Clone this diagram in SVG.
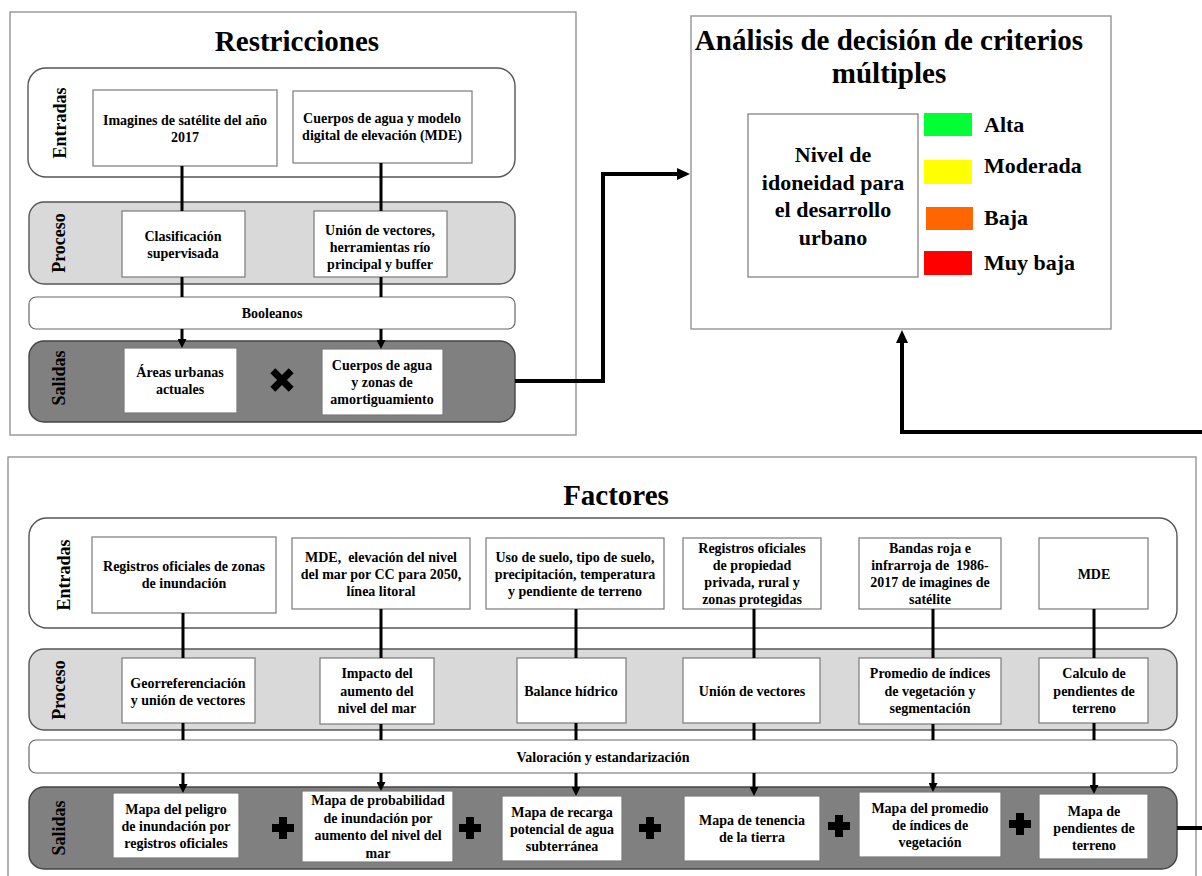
<svg xmlns="http://www.w3.org/2000/svg" width="1202" height="876" viewBox="0 0 1202 876">
<defs>
<style>
text{font-family:"Liberation Serif","Times New Roman",serif;font-weight:bold;fill:#000;}
.t{font-size:14px;text-anchor:middle;}
.title{font-size:29px;text-anchor:middle;}
.big{font-size:22px;text-anchor:middle;}
.leg{font-size:22px;}
.side{font-size:18px;text-anchor:middle;}
.outer{fill:#fff;stroke:#8c8c8c;stroke-width:1.3;}
.rowE{fill:#fff;stroke:#555;stroke-width:1.4;}
.rowP{fill:#d9d9d9;stroke:#555;stroke-width:1.4;}
.rowB{fill:#fff;stroke:#666;stroke-width:1.2;}
.rowS{fill:#808080;stroke:#444;stroke-width:1.4;}
.box{fill:#fff;stroke:#7a7a7a;stroke-width:1.2;}
.c{fill:none;stroke:#000;stroke-width:3;}
.ca{fill:none;stroke:#000;stroke-width:3;marker-end:url(#ah);}
.cb{fill:none;stroke:#000;stroke-width:4;stroke-linejoin:miter;marker-end:url(#bh);}
.sym{fill:#000;}
</style>
<marker id="ah" viewBox="0 0 10 10" refX="4.4" refY="5" markerWidth="9" markerHeight="9" markerUnits="userSpaceOnUse" orient="auto">
<path d="M0,0 L10,5 L0,10 Z" fill="#000"/>
</marker>
<marker id="bh" viewBox="0 0 13 12" refX="7" refY="6" markerWidth="13" markerHeight="12" markerUnits="userSpaceOnUse" orient="auto">
<path d="M0,0 L13,6 L0,12 Z" fill="#000"/>
</marker>
</defs>
<rect width="1202" height="876" fill="#fff"/>

<!-- Restricciones panel -->
<g id="restricciones">
<rect class="outer" x="10" y="12" width="566" height="423"/>
<text class="title" x="297" y="51">Restricciones</text>
<rect class="rowE" x="28" y="68" width="487" height="109" rx="18"/>
<rect class="rowP" x="29" y="202" width="486" height="82" rx="15"/>
<rect class="rowB" x="29" y="297" width="486" height="32" rx="7"/>
<rect class="rowS" x="29" y="341" width="486" height="81" rx="15"/>
<text class="side" transform="translate(66,123) rotate(-90)">Entradas</text>
<text class="side" transform="translate(65,243) rotate(-90)">Proceso</text>
<text class="side" transform="translate(65,378) rotate(-90)">Salidas</text>
<text class="t" x="272" y="318">Booleanos</text>
</g>
<g id="r-ent1"><rect class="box" x="93" y="90" width="184" height="76"/><text class="t"><tspan x="185" y="125">Imagines de satélite del año</tspan><tspan x="185" y="142">2017</tspan></text></g>
<g id="r-ent2"><rect class="box" x="293" y="91" width="179" height="72"/><text class="t"><tspan x="382" y="123">Cuerpos de agua y modelo</tspan><tspan x="382" y="140">digital de elevación (MDE)</tspan></text></g>
<g id="r-proc1"><rect class="box" x="122" y="211" width="123" height="66"/><text class="t"><tspan x="183" y="241">Clasificación</tspan><tspan x="183" y="258">supervisada</tspan></text></g>
<g id="r-proc2"><rect class="box" x="314" y="211" width="133" height="66"/><text class="t"><tspan x="380" y="235">Unión de vectores,</tspan><tspan x="380" y="252">herramientas río</tspan><tspan x="380" y="269">principal y buffer</tspan></text></g>
<g id="r-sal1"><rect class="box" x="124" y="348" width="113" height="65"/><text class="t"><tspan x="180" y="377">Áreas urbanas</tspan><tspan x="180" y="394">actuales</tspan></text></g>
<g id="r-sal2"><rect class="box" x="322" y="349" width="121" height="66"/><text class="t"><tspan x="382" y="370">Cuerpos de agua</tspan><tspan x="382" y="387">y zonas de</tspan><tspan x="382" y="404">amortiguamiento</tspan></text></g>
<g id="r-times"><path class="sym" transform="translate(282,380) rotate(45)" d="M-3.5,-13 H3.5 V-3.5 H13 V3.5 H3.5 V13 H-3.5 V3.5 H-13 V-3.5 H-3.5 Z"/></g>

<!-- MCDA panel -->
<g id="mcda">
<rect class="outer" x="691" y="16" width="420" height="313"/>
<text class="title"><tspan x="889" y="50">Análisis de decisión de criterios</tspan><tspan x="889" y="83">múltiples</tspan></text>
</g>
<g id="nivel"><rect class="box" x="748" y="114" width="170" height="163"/><text class="big"><tspan x="833" y="162">Nivel de</tspan><tspan x="833" y="190">idoneidad para</tspan><tspan x="833" y="217">el desarrollo</tspan><tspan x="833" y="245">urbano</tspan></text></g>
<g id="leg-alta"><rect x="924" y="113" width="48" height="23" fill="#00ff33"/><text class="leg" x="984" y="132">Alta</text></g>
<g id="leg-moderada"><rect x="924" y="160" width="48" height="24" fill="#ffff00"/><text class="leg" x="984" y="173">Moderada</text></g>
<g id="leg-baja"><rect x="926" y="207" width="47" height="23" fill="#ff6600"/><text class="leg" x="984" y="225">Baja</text></g>
<g id="leg-muybaja"><rect x="924" y="251" width="48" height="24" fill="#ff0000"/><text class="leg" x="984" y="270">Muy baja</text></g>

<!-- Factores panel -->
<g id="factores">
<rect class="outer" x="8" y="457" width="1188" height="440"/>
<text class="title" x="616" y="505">Factores</text>
<rect class="rowE" x="29" y="518" width="1148" height="110" rx="18"/>
<rect class="rowP" x="29" y="649" width="1148" height="81" rx="15"/>
<rect class="rowB" x="29" y="740" width="1148" height="33" rx="7"/>
<rect class="rowS" x="29" y="787" width="1148" height="82" rx="15"/>
<text class="side" transform="translate(70,575) rotate(-90)">Entradas</text>
<text class="side" transform="translate(65,690) rotate(-90)">Proceso</text>
<text class="side" transform="translate(65,828) rotate(-90)">Salidas</text>
<text class="t" x="603" y="762">Valoración y estandarización</text>
</g>
<g id="f-ent1"><rect class="box" x="92" y="537" width="184" height="76"/><text class="t"><tspan x="184" y="571">Registros oficiales de zonas</tspan><tspan x="184" y="588">de inundación</tspan></text></g>
<g id="f-ent2"><rect class="box" x="292" y="538" width="178" height="71"/><text class="t"><tspan x="381" y="562">MDE,&#160; elevación del nivel</tspan><tspan x="381" y="579">del mar por CC para 2050,</tspan><tspan x="381" y="596">línea litoral</tspan></text></g>
<g id="f-ent3"><rect class="box" x="486" y="538" width="178" height="71"/><text class="t"><tspan x="575" y="562">Uso de suelo, tipo de suelo,</tspan><tspan x="575" y="579">precipitación, temperatura</tspan><tspan x="575" y="596">y pendiente de terreno</tspan></text></g>
<g id="f-ent4"><rect class="box" x="683" y="538" width="138" height="71"/><text class="t"><tspan x="752" y="553">Registros oficiales</tspan><tspan x="752" y="570">de propiedad</tspan><tspan x="752" y="587">privada, rural y</tspan><tspan x="752" y="604">zonas protegidas</tspan></text></g>
<g id="f-ent5"><rect class="box" x="859" y="538" width="142" height="71"/><text class="t"><tspan x="930" y="553">Bandas roja e</tspan><tspan x="930" y="570">infrarroja de&#160; 1986-</tspan><tspan x="930" y="587">2017 de imagines de</tspan><tspan x="930" y="604">satélite</tspan></text></g>
<g id="f-ent6"><rect class="box" x="1039" y="538" width="109" height="71"/><text class="t" x="1094" y="579">MDE</text></g>
<g id="f-proc1"><rect class="box" x="122" y="658" width="133" height="65"/><text class="t"><tspan x="188" y="688">Georreferenciación</tspan><tspan x="188" y="705">y unión de vectores</tspan></text></g>
<g id="f-proc2"><rect class="box" x="320" y="658" width="114" height="66"/><text class="t"><tspan x="377" y="678">Impacto del</tspan><tspan x="377" y="696">aumento del</tspan><tspan x="377" y="713">nivel del mar</tspan></text></g>
<g id="f-proc3"><rect class="box" x="517" y="658" width="109" height="65"/><text class="t" x="571" y="696">Balance hídrico</text></g>
<g id="f-proc4"><rect class="box" x="683" y="658" width="137" height="65"/><text class="t" x="752" y="696">Unión de vectores</text></g>
<g id="f-proc5"><rect class="box" x="859" y="658" width="142" height="66"/><text class="t"><tspan x="930" y="678">Promedio de índices</tspan><tspan x="930" y="696">de vegetación y</tspan><tspan x="930" y="713">segmentación</tspan></text></g>
<g id="f-proc6"><rect class="box" x="1039" y="658" width="109" height="65"/><text class="t"><tspan x="1094" y="678">Calculo de</tspan><tspan x="1094" y="696">pendientes de</tspan><tspan x="1094" y="713">terreno</tspan></text></g>
<g id="f-sal1"><rect class="box" x="113" y="793" width="126" height="65"/><text class="t"><tspan x="176" y="814">Mapa del peligro</tspan><tspan x="176" y="831">de inundación por</tspan><tspan x="176" y="848">registros oficiales</tspan></text></g>
<g id="f-sal2"><rect class="box" x="302" y="791" width="151" height="71"/><text class="t"><tspan x="378" y="805">Mapa de probabilidad</tspan><tspan x="378" y="823">de inundación por</tspan><tspan x="378" y="840">aumento del nivel del</tspan><tspan x="378" y="858">mar</tspan></text></g>
<g id="f-sal3"><rect class="box" x="502" y="796" width="120" height="65"/><text class="t"><tspan x="562" y="817">Mapa de recarga</tspan><tspan x="562" y="834">potencial de agua</tspan><tspan x="562" y="851">subterránea</tspan></text></g>
<g id="f-sal4"><rect class="box" x="684" y="796" width="136" height="65"/><text class="t"><tspan x="752" y="825">Mapa de tenencia</tspan><tspan x="752" y="842">de la tierra</tspan></text></g>
<g id="f-sal5"><rect class="box" x="859" y="792" width="142" height="65"/><text class="t"><tspan x="930" y="813">Mapa del promedio</tspan><tspan x="930" y="830">de índices de</tspan><tspan x="930" y="847">vegetación</tspan></text></g>
<g id="f-sal6"><rect class="box" x="1039" y="794" width="109" height="65"/><text class="t"><tspan x="1094" y="816">Mapa de</tspan><tspan x="1094" y="833">pendientes de</tspan><tspan x="1094" y="850">terreno</tspan></text></g>
<g id="f-plus">
<path class="sym" transform="translate(283,828)" d="M-4,-11 H4 V-4 H11 V4 H4 V11 H-4 V4 H-11 V-4 H-4 Z"/>
<path class="sym" transform="translate(470,828)" d="M-4,-11 H4 V-4 H11 V4 H4 V11 H-4 V4 H-11 V-4 H-4 Z"/>
<path class="sym" transform="translate(650,828)" d="M-4,-11 H4 V-4 H11 V4 H4 V11 H-4 V4 H-11 V-4 H-4 Z"/>
<path class="sym" transform="translate(839,826)" d="M-4,-11 H4 V-4 H11 V4 H4 V11 H-4 V4 H-11 V-4 H-4 Z"/>
<path class="sym" transform="translate(1020,824)" d="M-4,-11 H4 V-4 H11 V4 H4 V11 H-4 V4 H-11 V-4 H-4 Z"/>
</g>

<!-- Connectors -->
<g id="connectors">
<path class="c" d="M182 166 V211 M182 277 V297"/>
<path class="ca" d="M182 329 V343"/>
<path class="c" d="M381 163 V211 M381 277 V297"/>
<path class="ca" d="M381 329 V344"/>
<path class="cb" d="M515 381 H603 V174 H684"/>
<path class="c" d="M183 613 V658 M183 723 V740"/>
<path class="ca" d="M183 773 V788"/>
<path class="c" d="M381 609 V658 M381 724 V740"/>
<path class="ca" d="M381 773 V786"/>
<path class="c" d="M576 609 V658 M576 723 V740"/>
<path class="ca" d="M576 773 V791"/>
<path class="c" d="M754 609 V658 M754 723 V740"/>
<path class="ca" d="M754 773 V791"/>
<path class="c" d="M933 609 V658 M933 724 V740"/>
<path class="ca" d="M933 773 V787"/>
<path class="c" d="M1094 609 V658 M1094 723 V740"/>
<path class="ca" d="M1094 773 V789"/>
<path class="cb" d="M1177 828 H1215 V432 H902 V336"/>
</g>
</svg>
